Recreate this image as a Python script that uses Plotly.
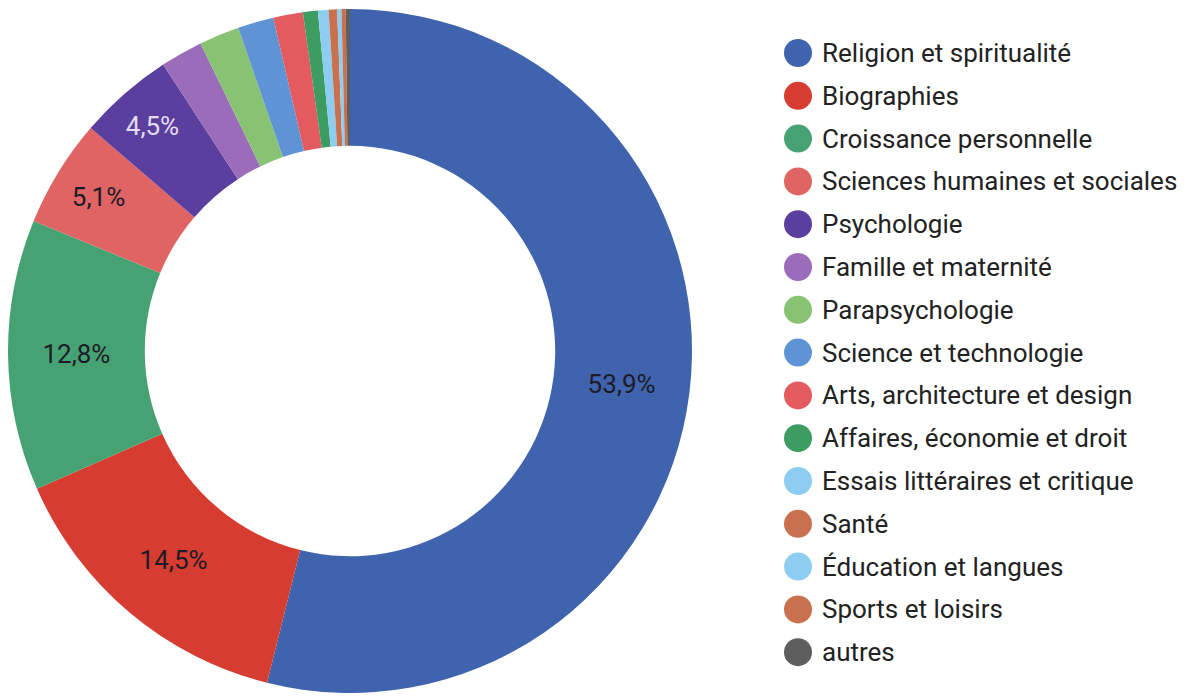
"""
Donut chart of book categories with a custom side legend
"""
import plotly.graph_objects as go

categories = [
    "Religion et spiritualité", "Biographies", "Croissance personnelle",
    "Sciences humaines et sociales", "Psychologie", "Famille et maternité",
    "Parapsychologie", "Science et technologie", "Arts, architecture et design",
    "Affaires, économie et droit", "Essais littéraires et critique", "Santé",
    "Éducation et langues", "Sports et loisirs", "autres",
]
shares = [53.9, 14.5, 12.8, 5.1, 4.5, 2.0, 1.9, 1.7, 1.4, 0.7, 0.5, 0.4, 0.2, 0.2, 0.2]
colors = [
    "#3f63ad", "#d63c30", "#47a273", "#e06464", "#5b3f9e", "#9a6cb9",
    "#88c273", "#5e94d6", "#e35b5e", "#3c9c62", "#8ecdf2", "#c9704f",
    "#8ecdf2", "#c9704f", "#5e5e5e",
]

W, H = 1189, 696
OFF = 8  # page body margin added by the browser

# only the bigger slices get a label, with a French decimal comma
labels_txt = [f"{v:.1f}%".replace(".", ",") if v >= 4 else "" for v in shares]
label_colors = ["#e4dcf0" if c == "#5b3f9e" else "#1c1c28" for c in colors]

fig = go.Figure()

cx, cy, r = 350 - OFF, 351 - OFF, 342
fig.add_trace(go.Pie(
    labels=categories,
    values=shares,
    text=labels_txt,
    texttemplate="%{text}",
    textposition="inside",
    insidetextorientation="horizontal",
    textfont=dict(family="Roboto", size=26, color=label_colors),
    marker=dict(colors=colors, line=dict(width=0)),
    hole=0.6,
    sort=False,
    direction="clockwise",
    rotation=0,
    showlegend=False,
    hoverinfo="label+percent",
    domain=dict(x=[max(cx - r, 0) / W, (cx + r) / W],
                y=[(H - cy - r) / H, (H - cy + r) / H]),
))

# legend drawn by hand: coloured circles + labels
shapes = []
annotations = []
for i, (name, col) in enumerate(zip(categories, colors)):
    ypx = 53 - OFF + i * 42.8
    yp = 1 - ypx / H
    shapes.append(dict(
        type="circle", xref="paper", yref="paper",
        xsizemode="pixel", ysizemode="pixel",
        xanchor=(798 - OFF) / W, yanchor=yp,
        x0=-14, x1=14, y0=-14, y1=14,
        fillcolor=col, line=dict(width=0),
    ))
    annotations.append(dict(
        text=name, xref="paper", yref="paper",
        x=(821 - OFF - 1) / W, y=yp, xanchor="left", yanchor="middle",
        showarrow=False,
        font=dict(family="Roboto", size=26, color="#222222"),
    ))

fig.update_layout(
    width=W, height=H,
    margin=dict(l=0, r=0, t=0, b=0),
    paper_bgcolor="white",
    plot_bgcolor="white",
    shapes=shapes,
    annotations=annotations,
    showlegend=False,
)

fig.write_html("out.html")
